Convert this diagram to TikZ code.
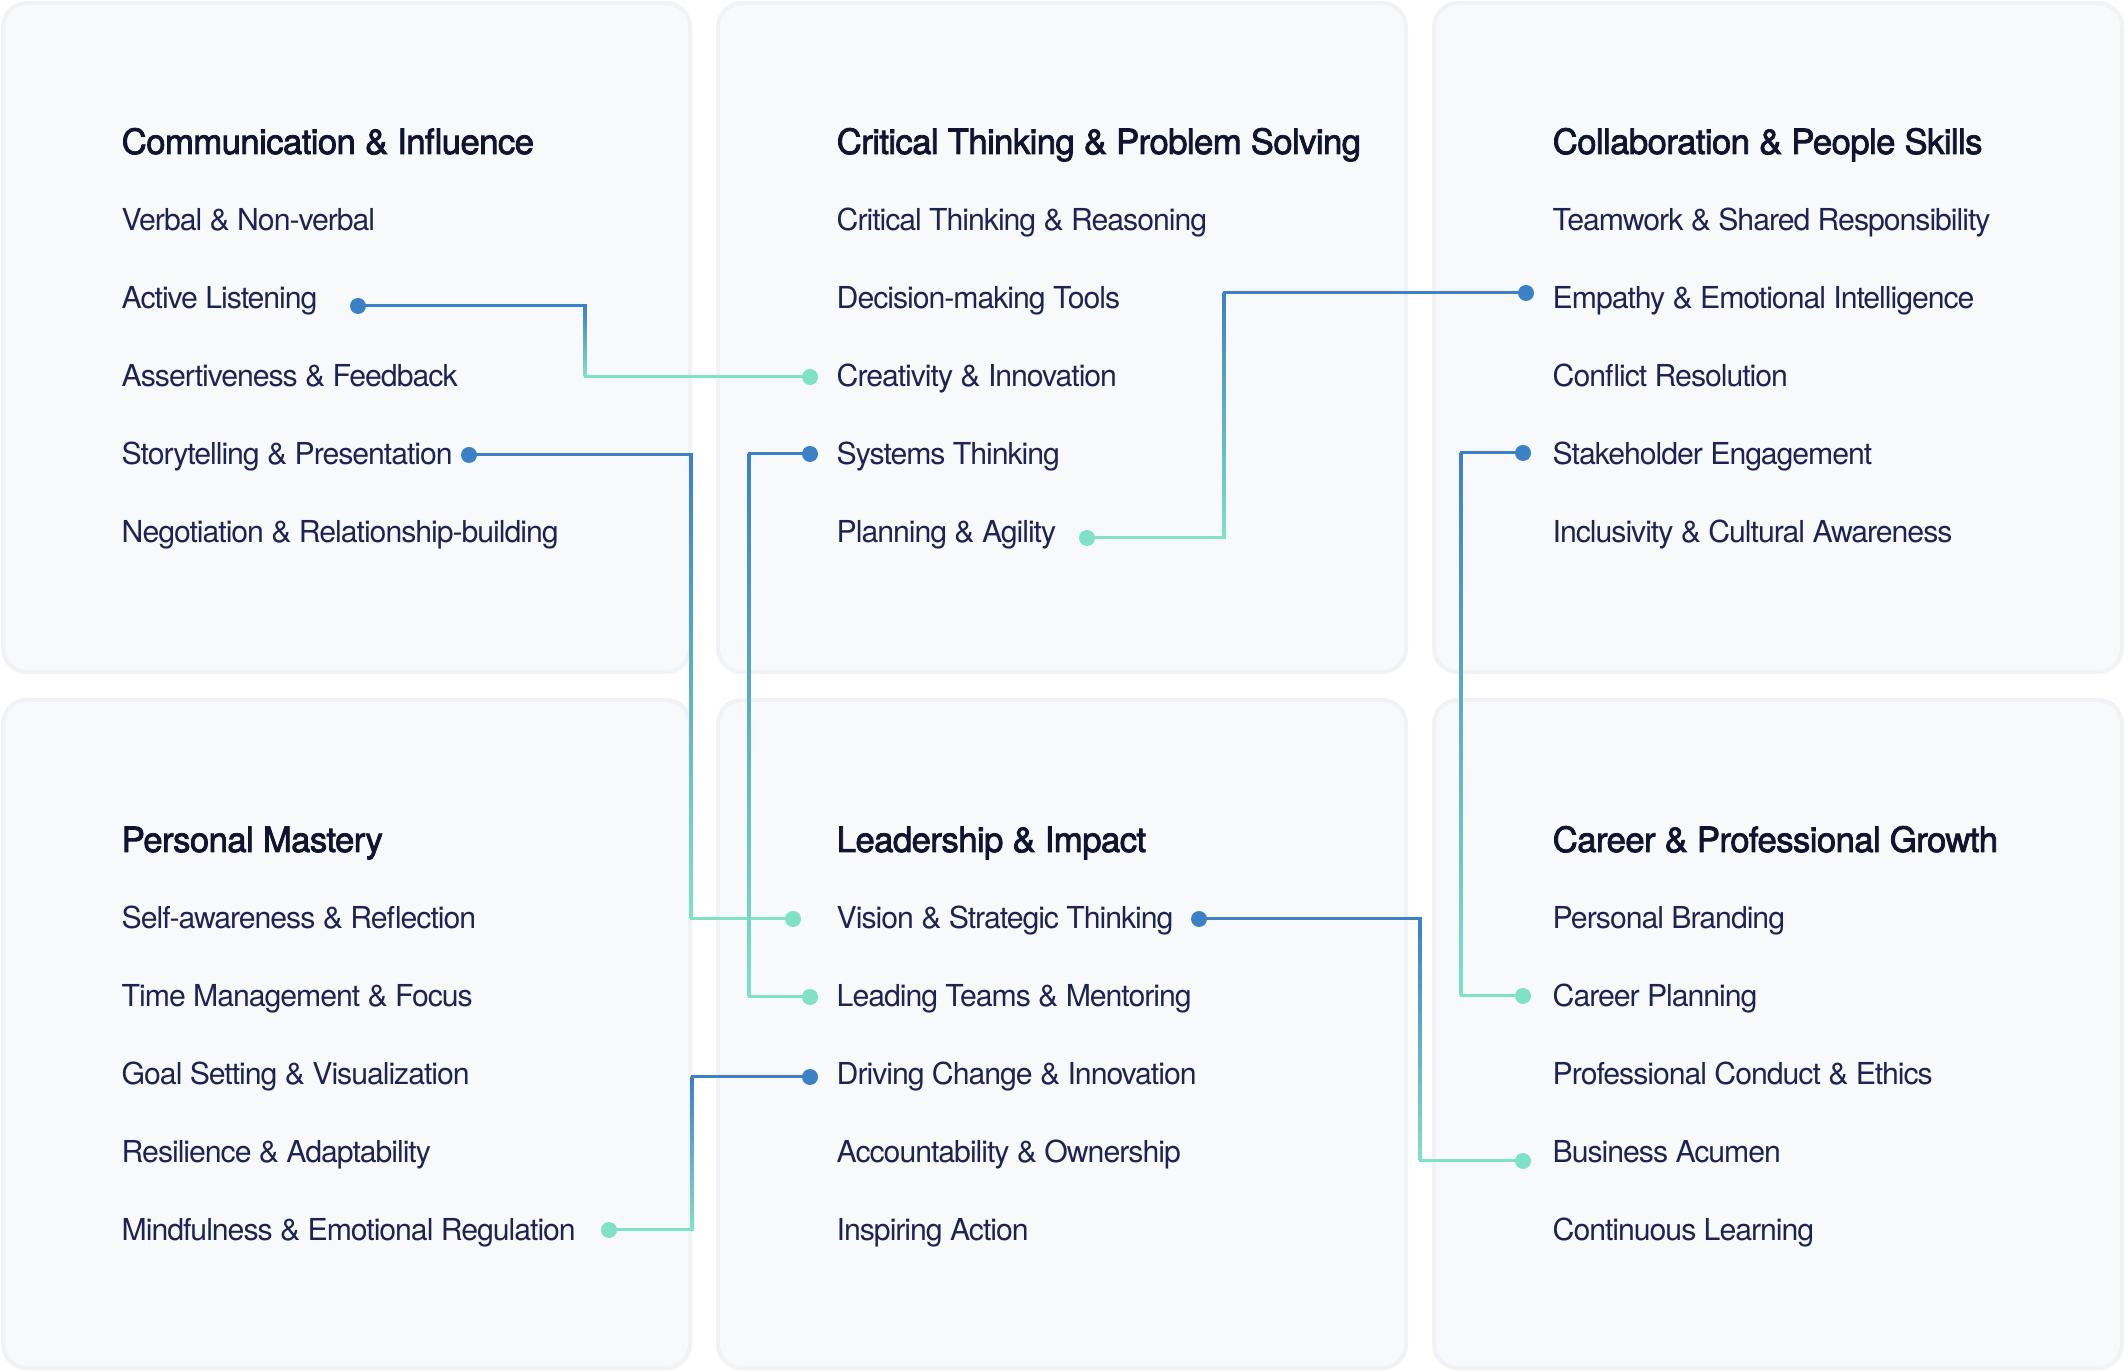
\documentclass[tikz,border=0pt]{standalone}
\usepackage{fontspec}
\setmainfont{TeX Gyre Heros}[LetterSpace=-3.4]
\newfontfamily\headfont{TeX Gyre Heros}[FakeBold=2.2, LetterSpace=-1.8]
\usetikzlibrary{calc}

\definecolor{inktext}{HTML}{1E2352}
\definecolor{inkhead}{HTML}{10142E}
\definecolor{linkblue}{HTML}{3C80C7}
\definecolor{linkteal}{HTML}{7FE2C6}
\definecolor{panelbg}{HTML}{F7F9FB}
\definecolor{panelrim}{HTML}{F0F2F5}

% #1 blue dot (upper end), #2 teal dot (lower end), #3 x of the bend
\newcommand{\skilllink}[3]{%
  \coordinate (#1-bend) at (#3,0);
  \shade[top color=linkblue, bottom color=linkteal]
    ($(#1 -| #1-bend)+(-1.5,0)$) rectangle ($(#2 -| #1-bend)+(1.5,0)$);
  \draw[link, linkblue] (#1) -- (#1 -| #1-bend);
  \draw[link, linkteal] (#2 -| #1-bend) -- (#2);
}

\begin{document}
\begin{tikzpicture}[x=0.1mm, y=-0.1mm,
    panel/.style={fill=panelbg, draw=panelrim, line width=0.4mm, rounded corners=2.4mm},
    head/.style={anchor=base west, inner sep=0, text=inkhead, font=\headfont\fontsize{9.9}{12}\selectfont},
    item/.style={anchor=base west, inner sep=0, text=inktext, font=\fontsize{8.6}{10}\selectfont},
    link/.style={line width=0.3mm, line cap=rect},
    bdot/.style={circle, fill=linkblue, inner sep=0, minimum size=1.6mm},
    tdot/.style={circle, fill=linkteal, inner sep=0, minimum size=1.6mm}]
	\useasboundingbox[fill=white] (0,0) rectangle (2125,1371);
	% panels
	\draw[panel] (3,3) rectangle (690,672);
	\draw[panel] (718,3) rectangle (1406,672);
	\draw[panel] (1434,3) rectangle (2122,672);
	\draw[panel] (3,700) rectangle (690,1368);
	\draw[panel] (718,700) rectangle (1406,1368);
	\draw[panel] (1434,700) rectangle (2122,1368);
	% communication & influence
	\node[head] (comm) at (121,154) {Communication \& Influence};
	\node[item] (verbal) at (121,231) {Verbal \& Non-verbal};
	\node[item] (listen) at (121,309) {Active Listening};
	\node[item] (assert) at (121,387) {Assertiveness \& Feedback};
	\node[item] (story) at (121,465) {Storytelling \& Presentation};
	\node[item] (negot) at (121,543) {Negotiation \& Relationship-building};
	% critical thinking & problem solving
	\node[head] (crit) at (836,154) {Critical Thinking \& Problem Solving};
	\node[item] (reason) at (836,231) {Critical Thinking \& Reasoning};
	\node[item] (decide) at (836,309) {Decision-making Tools};
	\node[item] (creat) at (836,387) {Creativity \& Innovation};
	\node[item] (systems) at (836,465) {Systems Thinking};
	\node[item] (plan) at (836,543) {Planning \& Agility};
	% collaboration & people skills
	\node[head] (collab) at (1552,154) {Collaboration \& People Skills};
	\node[item] (team) at (1552,231) {Teamwork \& Shared Responsibility};
	\node[item] (empathy) at (1552,309) {Empathy \& Emotional Intelligence};
	\node[item] (conflict) at (1552,387) {Conflict Resolution};
	\node[item] (stake) at (1552,465) {Stakeholder Engagement};
	\node[item] (inclus) at (1552,543) {Inclusivity \& Cultural Awareness};
	% personal mastery
	\node[head] (mastery) at (121,852) {Personal Mastery};
	\node[item] (selfaw) at (121,929) {Self-awareness \& Reflection};
	\node[item] (timemg) at (121,1007) {Time Management \& Focus};
	\node[item] (goals) at (121,1085) {Goal Setting \& Visualization};
	\node[item] (resil) at (121,1163) {Resilience \& Adaptability};
	\node[item] (mindful) at (121,1241) {Mindfulness \& Emotional Regulation};
	% leadership & impact
	\node[head] (lead) at (836,852) {Leadership \& Impact};
	\node[item] (vision) at (836,929) {Vision \& Strategic Thinking};
	\node[item] (leading) at (836,1007) {Leading Teams \& Mentoring};
	\node[item] (driving) at (836,1085) {Driving Change \& Innovation};
	\node[item] (account) at (836,1163) {Accountability \& Ownership};
	\node[item] (inspire) at (836,1241) {Inspiring Action};
	% career & professional growth
	\node[head] (career) at (1552,852) {Career \& Professional Growth};
	\node[item] (brand) at (1552,929) {Personal Branding};
	\node[item] (careerplan) at (1552,1007) {Career Planning};
	\node[item] (conduct) at (1552,1085) {Professional Conduct \& Ethics};
	\node[item] (acumen) at (1552,1163) {Business Acumen};
	\node[item] (learn) at (1552,1241) {Continuous Learning};
	% dots
	\node[bdot] (listen-d) at (358,306) {};
	\node[tdot] (creat-d) at (810,377) {};
	\node[bdot] (story-d) at (469,455) {};
	\node[tdot] (vision-l) at (793,919) {};
	\node[bdot] (systems-d) at (810,454) {};
	\node[tdot] (leading-d) at (810,997) {};
	\node[bdot] (empathy-d) at (1526,293) {};
	\node[tdot] (plan-d) at (1087,538) {};
	\node[bdot] (stake-d) at (1523,453) {};
	\node[tdot] (careerplan-d) at (1523,996) {};
	\node[bdot] (vision-r) at (1199,919) {};
	\node[tdot] (acumen-d) at (1523,1161) {};
	\node[bdot] (driving-d) at (810,1077) {};
	\node[tdot] (mindful-d) at (609,1230) {};
	% links
	\skilllink{listen-d}{creat-d}{585}
	\skilllink{story-d}{vision-l}{691}
	\skilllink{systems-d}{leading-d}{749}
	\skilllink{empathy-d}{plan-d}{1224}
	\skilllink{stake-d}{careerplan-d}{1461}
	\skilllink{vision-r}{acumen-d}{1420}
	\skilllink{driving-d}{mindful-d}{692}
\end{tikzpicture}
\end{document}
